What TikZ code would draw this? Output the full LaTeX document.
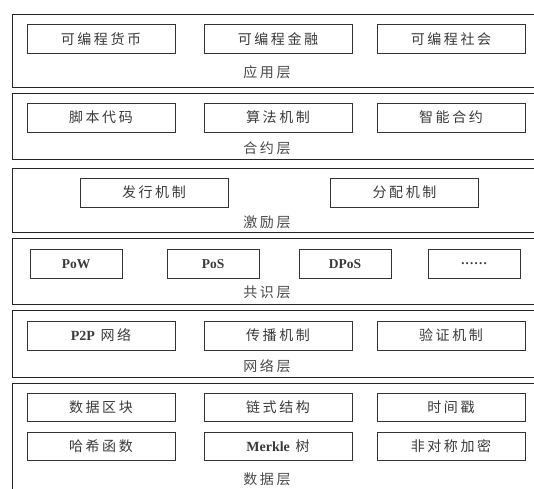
\documentclass[tikz,border=0pt]{standalone}
\usepackage{fontspec}
\setmainfont{Liberation Serif}
\newfontfamily\cjk[LetterSpace=18]{Noto Sans CJK SC}
\definecolor{txt}{HTML}{3A3A3A}
\definecolor{lbl}{HTML}{4A4A4A}
\begin{document}
\begin{tikzpicture}[x=1pt,y=-1pt,
  layerbox/.style={draw=black!85,line width=1pt},
  item/.style={draw=black!80,line width=0.9pt,minimum width=148pt,minimum height=29pt,inner sep=0pt,text=txt,font=\cjk\fontsize{14}{15}\selectfont},
  smallitem/.style={item,minimum width=92pt},
  layerlabel/.style={inner sep=0pt,text=lbl,font=\cjk\fontsize{14}{15}\selectfont},
  latin/.style={font=\bfseries\fontsize{13.5}{15}\selectfont}]
\useasboundingbox (0,0) rectangle (534,488);
\clip (0,0) rectangle (534,488);
\fill[white] (0,0) rectangle (534,488);
% layers
\foreach \t/\b in {14/87,93/159,168/232,238/304,310/377,383/500}{
  \draw[layerbox] (12,\t) rectangle (560,\b);
  \draw[line width=1.8pt,black!85] (12.4,\t) -- (12.4,\b);
}
% application layer
\node[item] (a1) at (101,39) {可编程货币};
\node[item] (a2) at (278,39) {可编程金融};
\node[item] (a3) at (451,39) {可编程社会};
\node[layerlabel] (la) at (267,72) {应用层};
% contract layer
\node[item] (c1) at (101,117.5) {脚本代码};
\node[item] (c2) at (278,117.5) {算法机制};
\node[item] (c3) at (451,117.5) {智能合约};
\node[layerlabel] (lc) at (267,148) {合约层};
% incentive layer
\node[item] (i1) at (154,192.5) {发行机制};
\node[item] (i2) at (404.5,192.5) {分配机制};
\node[layerlabel] (li) at (267,222) {激励层};
% consensus layer
\node[smallitem,latin] (s1) at (76,264) {PoW};
\node[smallitem,latin] (s2) at (213,264) {PoS};
\node[smallitem,latin] (s3) at (345,264) {DPoS};
\node[smallitem,font=\bfseries\fontsize{13}{15}\selectfont] (s4) at (474,264) {\raisebox{-1pt}{.\kern1.2pt.\kern1.2pt.\kern1.2pt.\kern1.2pt.\kern1.2pt.}};
\node[layerlabel] (ls) at (267,292) {共识层};
% network layer
\node[item] (n1) at (101,335.5) {{\bfseries\fontspec{Liberation Serif}P2P} 网络};
\node[item] (n2) at (278,335.5) {传播机制};
\node[item] (n3) at (451,335.5) {验证机制};
\node[layerlabel] (ln) at (267,366) {网络层};
% data layer
\node[item,minimum height=28pt] (d1) at (101,407.5) {数据区块};
\node[item,minimum height=28pt] (d2) at (278,407.5) {链式结构};
\node[item,minimum height=28pt] (d3) at (451,407.5) {时间戳};
\node[item,minimum height=28pt] (d4) at (101,446) {哈希函数};
\node[item,minimum height=28pt] (d5) at (278,446) {{\bfseries\fontspec{Liberation Serif}Merkle} 树};
\node[item,minimum height=28pt] (d6) at (451,446) {非对称加密};
\node[layerlabel] (ld) at (267,479) {数据层};
\end{tikzpicture}
\end{document}
